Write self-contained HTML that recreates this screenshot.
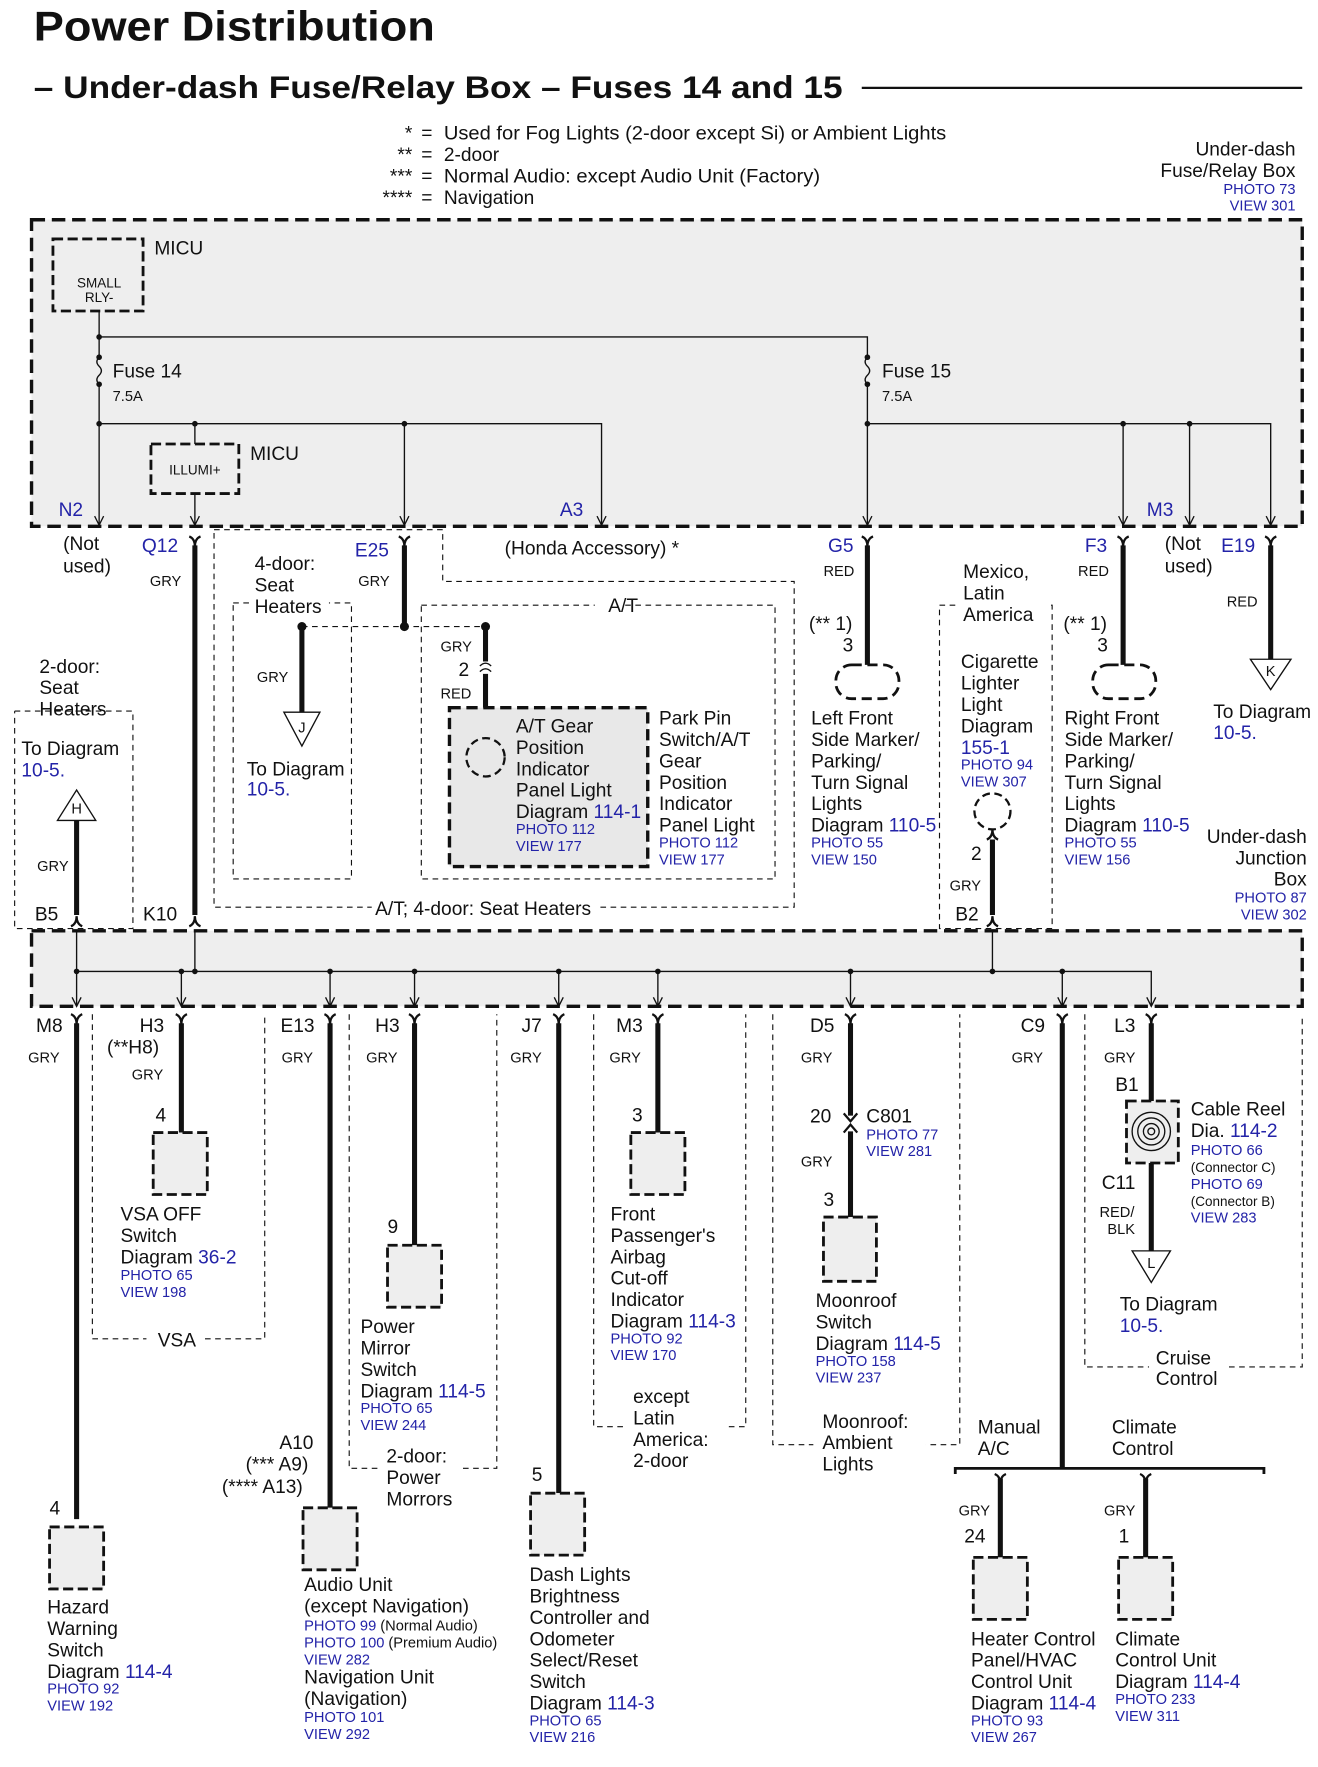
<!DOCTYPE html>
<html><head><meta charset="utf-8"><style>
html,body{margin:0;padding:0;background:#fff}
svg{display:block}
text{font-family:"Liberation Sans",Arial,sans-serif;font-size:17px;fill:#111}
.s{font-size:13px}
.b{fill:#2323a8}
.sb{font-size:13px;fill:#2323a8}
.t{stroke:#111;stroke-width:4.5;fill:none}
.n{stroke:#111;stroke-width:1.2;fill:none}
.d{stroke:#111;stroke-width:1;fill:none;stroke-dasharray:5 4}
.bx{stroke:#111;stroke-width:2.5;fill:#eee;stroke-dasharray:9 4}
</style></head><body>
<svg width="1318" height="1767" viewBox="0 0 1170 1568" preserveAspectRatio="none" xmlns="http://www.w3.org/2000/svg">
<defs>
<path id="yf" d="M-5,0 Q0,2 0,9 Q0,2 5,0" stroke="#111" stroke-width="2" fill="none"/>
<path id="yu" d="M-5,0 Q0,-2 0,-9 Q0,-2 5,0" stroke="#111" stroke-width="2" fill="none"/>
<path id="ar" d="M-4,-8 L0,0 L4,-8" stroke="#111" stroke-width="1.2" fill="none"/>
</defs>
<text x="30" y="36" style="font-size:37px;font-weight:bold" textLength="356" lengthAdjust="spacingAndGlyphs">Power Distribution</text>
<text x="30" y="87" style="font-size:28px;font-weight:bold" textLength="718" lengthAdjust="spacingAndGlyphs">– Under-dash Fuse/Relay Box – Fuses 14 and 15</text>
<line x1="765" y1="78" x2="1156" y2="78" stroke="#111" stroke-width="2"/>
<g text-anchor="end"><text x="366" y="124">*</text><text x="366" y="143">**</text><text x="366" y="162">***</text><text x="366" y="181">****</text></g>
<text x="374" y="124">=</text><text x="374" y="143">=</text><text x="374" y="162">=</text><text x="374" y="181">=</text>
<text x="394" y="124" textLength="446" lengthAdjust="spacingAndGlyphs">Used for Fog Lights (2-door except Si) or Ambient Lights</text>
<text x="394" y="143">2-door</text>
<text x="394" y="162" textLength="334" lengthAdjust="spacingAndGlyphs">Normal Audio: except Audio Unit (Factory)</text>
<text x="394" y="181">Navigation</text>
<g text-anchor="end"><text x="1150" y="138">Under-dash</text><text x="1150" y="157">Fuse/Relay Box</text><text class="sb" x="1150" y="172">PHOTO 73</text><text class="sb" x="1150" y="187">VIEW 301</text></g>

<!-- top box -->
<rect x="28" y="195" width="1128" height="272" fill="#eee" stroke="#111" stroke-width="3" stroke-dasharray="12 6"/>
<rect x="47" y="212" width="80" height="64" class="bx"/>
<text class="s" x="88" y="255" text-anchor="middle" style="font-size:12px">SMALL</text>
<text class="s" x="88" y="268" text-anchor="middle" style="font-size:12px">RLY-</text>
<text x="137" y="226">MICU</text>
<path class="n" d="M88,276 V317 M88,341 V466 M88,299 H770 V317 M770,341 V466 M88,376 H534 V466 M173,376 V394 M173,438 V466 M359,376 V466 M770,376 H1128 V466 M997,376 V466 M1056,376 V466"/>
<path class="n" d="M88,317 q-4,4 0,8 q4,4 0,8 q-4,4 0,8 M770,317 q-4,4 0,8 q4,4 0,8 q-4,4 0,8"/>
<g fill="#111"><circle cx="88" cy="299" r="2.5"/><circle cx="88" cy="317" r="2.5"/><circle cx="88" cy="341" r="2.5"/><circle cx="770" cy="317" r="2.5"/><circle cx="770" cy="341" r="2.5"/><circle cx="88" cy="376" r="2.5"/><circle cx="173" cy="376" r="2.5"/><circle cx="359" cy="376" r="2.5"/><circle cx="770" cy="376" r="2.5"/><circle cx="997" cy="376" r="2.5"/><circle cx="1056" cy="376" r="2.5"/></g>
<text x="100" y="335">Fuse 14</text><text class="s" x="100" y="356">7.5A</text>
<text x="783" y="335">Fuse 15</text><text class="s" x="783" y="356">7.5A</text>
<rect x="134" y="394" width="78" height="44" class="bx"/>
<text x="173" y="421" text-anchor="middle" style="font-size:12px">ILLUMI+</text>
<text x="222" y="408">MICU</text>
<text class="b" x="52" y="458">N2</text><text class="b" x="497" y="458">A3</text><text class="b" x="1018" y="458">M3</text>
<use href="#ar" x="88" y="466"/><use href="#ar" x="173" y="466"/><use href="#ar" x="359" y="466"/><use href="#ar" x="534" y="466"/><use href="#ar" x="770" y="466"/><use href="#ar" x="997" y="466"/><use href="#ar" x="1056" y="466"/><use href="#ar" x="1128" y="466"/>

<!-- below top box -->
<use href="#yf" x="173" y="476"/><use href="#yf" x="359" y="476"/><use href="#yf" x="770" y="476"/><use href="#yf" x="997" y="476"/><use href="#yf" x="1128" y="476"/>
<text x="56" y="488">(Not</text><text x="56" y="508">used)</text>
<text class="b" x="126" y="490">Q12</text><text class="s" x="133" y="520">GRY</text>
<path class="t" d="M173,484 V812"/>
<text class="b" x="315" y="494">E25</text><text class="s" x="318" y="520">GRY</text>
<path class="t" d="M359,484 V556"/>
<path class="d" d="M190,470 H393 V516 H705 V805 H190 V470"/>
<rect x="330" y="797" width="200" height="18" fill="#fff"/>
<text x="333" y="812">A/T; 4-door: Seat Heaters</text>
<path class="d" d="M207,535 H312 V780 H207 V535"/>
<rect x="222" y="495" width="70" height="55" fill="#fff"/>
<text x="226" y="506">4-door:</text><text x="226" y="525">Seat</text><text x="226" y="544">Heaters</text>
<path class="d" d="M268,556 H431"/>
<g fill="#111"><circle cx="268" cy="556" r="4"/><circle cx="359" cy="556" r="4"/><circle cx="431" cy="556" r="4"/></g>
<path class="t" d="M268,556 V632"/>
<path d="M252,632 H284 L268,662 Z" fill="#fff" stroke="#111" stroke-width="1.2"/><text class="s" x="268" y="650" text-anchor="middle">J</text>
<text class="s" x="228" y="605">GRY</text>
<text x="219" y="688">To Diagram</text><text class="b" x="219" y="706">10-5.</text>
<path class="d" d="M374,537 H528 M555,537 H688 V780 H374 V537"/>
<text x="540" y="543">A/T</text>
<text x="448" y="492">(Honda Accessory) *</text>
<text class="s" x="391" y="578">GRY</text>
<path class="t" d="M431,556 V587 M431,598 V628"/>
<path class="n" d="M426,591 q5,-5 10,0 M426,596 q5,-5 10,0" stroke-width="2"/>
<text x="407" y="600">2</text><text class="s" x="391" y="620">RED</text>
<rect x="399" y="628" width="176" height="141" fill="#e8e8e8" stroke="#111" stroke-width="3" stroke-dasharray="10 5"/>
<circle cx="431" cy="672" r="17" fill="none" stroke="#111" stroke-width="2" stroke-dasharray="7 4"/>
<text x="458" y="650">A/T Gear</text><text x="458" y="669">Position</text><text x="458" y="688">Indicator</text><text x="458" y="707">Panel Light</text><text x="458" y="726">Diagram <tspan class="b">114-1</tspan></text><text class="sb" x="458" y="740">PHOTO 112</text><text class="sb" x="458" y="755">VIEW 177</text>
<text x="585" y="643">Park Pin</text><text x="585" y="662">Switch/A/T</text><text x="585" y="681">Gear</text><text x="585" y="700">Position</text><text x="585" y="719">Indicator</text><text x="585" y="738">Panel Light</text><text class="sb" x="585" y="752">PHOTO 112</text><text class="sb" x="585" y="767">VIEW 177</text>

<text class="b" x="735" y="490">G5</text><text class="s" x="731" y="511">RED</text>
<path class="t" d="M770,484 V590"/>
<text x="718" y="559">(** 1)</text><text x="748" y="578">3</text>
<rect x="742" y="590" width="56" height="30" rx="14" fill="none" stroke="#111" stroke-width="2.5" stroke-dasharray="9 5"/>
<text x="720" y="643">Left Front</text><text x="720" y="662">Side Marker/</text><text x="720" y="681">Parking/</text><text x="720" y="700">Turn Signal</text><text x="720" y="719">Lights</text><text x="720" y="738">Diagram <tspan class="b">110-5</tspan></text><text class="sb" x="720" y="752">PHOTO 55</text><text class="sb" x="720" y="767">VIEW 150</text>

<path class="d" d="M834,537 H934 V824 H834 V537"/>
<rect x="850" y="497" width="80" height="58" fill="#fff"/>
<text x="855" y="513">Mexico,</text><text x="855" y="532">Latin</text><text x="855" y="551">America</text>
<text x="853" y="593">Cigarette</text><text x="853" y="612">Lighter</text><text x="853" y="631">Light</text><text x="853" y="650">Diagram</text><text class="b" x="853" y="669">155-1</text><text class="sb" x="853" y="683">PHOTO 94</text><text class="sb" x="853" y="698">VIEW 307</text>
<circle cx="881" cy="720" r="16" fill="none" stroke="#111" stroke-width="2" stroke-dasharray="7 4"/>
<text x="862" y="763">2</text><text class="s" x="843" y="790">GRY</text><text x="848" y="817">B2</text>
<path class="t" d="M881,745 V812"/><use href="#yu" x="881" y="745"/>

<text class="b" x="963" y="490">F3</text><text class="s" x="957" y="511">RED</text>
<path class="t" d="M997,484 V590"/>
<text x="944" y="559">(** 1)</text><text x="974" y="578">3</text>
<rect x="970" y="590" width="56" height="30" rx="14" fill="none" stroke="#111" stroke-width="2.5" stroke-dasharray="9 5"/>
<text x="945" y="643">Right Front</text><text x="945" y="662">Side Marker/</text><text x="945" y="681">Parking/</text><text x="945" y="700">Turn Signal</text><text x="945" y="719">Lights</text><text x="945" y="738">Diagram <tspan class="b">110-5</tspan></text><text class="sb" x="945" y="752">PHOTO 55</text><text class="sb" x="945" y="767">VIEW 156</text>

<text x="1034" y="488">(Not</text><text x="1034" y="508">used)</text>
<text class="b" x="1084" y="490">E19</text><text class="s" x="1089" y="538">RED</text>
<path class="t" d="M1128,484 V585"/>
<path d="M1110,585 H1146 L1128,612 Z" fill="#fff" stroke="#111" stroke-width="1.2"/><text class="s" x="1128" y="600" text-anchor="middle">K</text>
<text x="1077" y="637">To Diagram</text><text class="b" x="1077" y="656">10-5.</text>
<g text-anchor="end"><text x="1160" y="748">Under-dash</text><text x="1160" y="767">Junction</text><text x="1160" y="786">Box</text><text class="sb" x="1160" y="801">PHOTO 87</text><text class="sb" x="1160" y="816">VIEW 302</text></g>

<text x="35" y="597">2-door:</text><text x="35" y="616">Seat</text><text x="35" y="635">Heaters</text>
<path class="d" d="M13,631 H118 V824 H13 V631"/>
<text x="19" y="670">To Diagram</text><text class="b" x="19" y="689">10-5.</text>
<path d="M51,728 H85 L68,701 Z" fill="#fff" stroke="#111" stroke-width="1.2"/><text class="s" x="68" y="722" text-anchor="middle">H</text>
<text class="s" x="33" y="773">GRY</text>
<path class="t" d="M68,728 V812"/>
<text x="31" y="817">B5</text><text x="127" y="817">K10</text>
<use href="#yu" x="68" y="822"/><use href="#yu" x="173" y="822"/><use href="#yu" x="881" y="822"/>

<!-- middle box -->
<rect x="28" y="826" width="1128" height="67" fill="#eee" stroke="#111" stroke-width="3" stroke-dasharray="12 6"/>
<path class="n" d="M68,826 V893 M68,862 H1022 V893 M161,862 V893 M173,826 V862 M293,862 V893 M368,862 V893 M496,862 V893 M584,862 V893 M755,862 V893 M943,862 V893 M881,826 V862"/>
<g fill="#111"><circle cx="68" cy="862" r="2.5"/><circle cx="161" cy="862" r="2.5"/><circle cx="173" cy="862" r="2.5"/><circle cx="293" cy="862" r="2.5"/><circle cx="368" cy="862" r="2.5"/><circle cx="496" cy="862" r="2.5"/><circle cx="584" cy="862" r="2.5"/><circle cx="755" cy="862" r="2.5"/><circle cx="881" cy="862" r="2.5"/><circle cx="943" cy="862" r="2.5"/></g>
<use href="#ar" x="68" y="893"/><use href="#ar" x="161" y="893"/><use href="#ar" x="293" y="893"/><use href="#ar" x="368" y="893"/><use href="#ar" x="496" y="893"/><use href="#ar" x="584" y="893"/><use href="#ar" x="755" y="893"/><use href="#ar" x="943" y="893"/><use href="#ar" x="1022" y="893"/>
<use href="#yf" x="68" y="900"/><use href="#yf" x="161" y="900"/><use href="#yf" x="293" y="900"/><use href="#yf" x="368" y="900"/><use href="#yf" x="496" y="900"/><use href="#yf" x="584" y="900"/><use href="#yf" x="755" y="900"/><use href="#yf" x="943" y="900"/><use href="#yf" x="1022" y="900"/>

<!-- M8 -->
<text x="32" y="916">M8</text><text class="s" x="25" y="943">GRY</text>
<path class="t" d="M68,908 V1348"/><text x="44" y="1344">4</text>
<rect x="44" y="1355" width="48" height="55" class="bx"/>
<text x="42" y="1432">Hazard</text><text x="42" y="1451">Warning</text><text x="42" y="1470">Switch</text><text x="42" y="1489">Diagram <tspan class="b">114-4</tspan></text><text class="sb" x="42" y="1503">PHOTO 92</text><text class="sb" x="42" y="1518">VIEW 192</text>
<!-- VSA -->
<path class="d" d="M82,900 V1188 H130 M182,1188 H235 V900"/>
<text x="124" y="916">H3</text><text x="95" y="935">(**H8)</text><text class="s" x="117" y="958">GRY</text>
<path class="t" d="M161,908 V1005"/><text x="138" y="995">4</text>
<rect x="136" y="1005" width="48" height="55" class="bx"/>
<text x="107" y="1083">VSA OFF</text><text x="107" y="1102">Switch</text><text x="107" y="1121">Diagram <tspan class="b">36-2</tspan></text><text class="sb" x="107" y="1136">PHOTO 65</text><text class="sb" x="107" y="1151">VIEW 198</text>
<text x="140" y="1195">VSA</text>
<!-- E13 -->
<text x="249" y="916">E13</text><text class="s" x="250" y="943">GRY</text>
<path class="t" d="M293,908 V1338"/>
<text x="248" y="1286">A10</text><text x="218" y="1305">(*** A9)</text><text x="197" y="1325">(**** A13)</text>
<rect x="269" y="1338" width="48" height="55" class="bx"/>
<text x="270" y="1412">Audio Unit</text><text x="270" y="1431">(except Navigation)</text>
<text class="sb" x="270" y="1447">PHOTO 99 <tspan fill="#111">(Normal Audio)</tspan></text>
<text class="sb" x="270" y="1462">PHOTO 100 <tspan fill="#111">(Premium Audio)</tspan></text>
<text class="sb" x="270" y="1477">VIEW 282</text>
<text x="270" y="1494">Navigation Unit</text><text x="270" y="1513">(Navigation)</text><text class="sb" x="270" y="1528">PHOTO 101</text><text class="sb" x="270" y="1543">VIEW 292</text>
<!-- H3 mirror -->
<path class="d" d="M310,900 V1303 H441 V900"/>
<text x="333" y="916">H3</text><text class="s" x="325" y="943">GRY</text>
<path class="t" d="M368,908 V1105"/><text x="344" y="1094">9</text>
<rect x="344" y="1105" width="48" height="55" class="bx"/>
<text x="320" y="1183">Power</text><text x="320" y="1202">Mirror</text><text x="320" y="1221">Switch</text><text x="320" y="1240">Diagram <tspan class="b">114-5</tspan></text><text class="sb" x="320" y="1254">PHOTO 65</text><text class="sb" x="320" y="1269">VIEW 244</text>
<rect x="338" y="1283" width="70" height="58" fill="#fff"/>
<text x="343" y="1298">2-door:</text><text x="343" y="1317">Power</text><text x="343" y="1336">Morrors</text>
<!-- J7 -->
<text x="463" y="916">J7</text><text class="s" x="453" y="943">GRY</text>
<path class="t" d="M496,908 V1325"/><text x="472" y="1314">5</text>
<rect x="471" y="1325" width="48" height="55" class="bx"/>
<text x="470" y="1403">Dash Lights</text><text x="470" y="1422">Brightness</text><text x="470" y="1441">Controller and</text><text x="470" y="1460">Odometer</text><text x="470" y="1479">Select/Reset</text><text x="470" y="1498">Switch</text><text x="470" y="1517">Diagram <tspan class="b">114-3</tspan></text><text class="sb" x="470" y="1531">PHOTO 65</text><text class="sb" x="470" y="1546">VIEW 216</text>
<!-- M3 airbag -->
<path class="d" d="M527,900 V1266 H662 V900"/>
<text x="547" y="916">M3</text><text class="s" x="541" y="943">GRY</text>
<path class="t" d="M584,908 V1005"/><text x="561" y="995">3</text>
<rect x="560" y="1005" width="48" height="55" class="bx"/>
<text x="542" y="1083">Front</text><text x="542" y="1102">Passenger's</text><text x="542" y="1121">Airbag</text><text x="542" y="1140">Cut-off</text><text x="542" y="1159">Indicator</text><text x="542" y="1178">Diagram <tspan class="b">114-3</tspan></text><text class="sb" x="542" y="1192">PHOTO 92</text><text class="sb" x="542" y="1207">VIEW 170</text>
<rect x="555" y="1228" width="90" height="78" fill="#fff"/>
<text x="562" y="1245">except</text><text x="562" y="1264">Latin</text><text x="562" y="1283">America:</text><text x="562" y="1302">2-door</text>
<!-- D5 -->
<path class="d" d="M686,900 V1282 H852 V900"/>
<text x="719" y="916">D5</text><text class="s" x="711" y="943">GRY</text>
<path class="t" d="M755,908 V990 M755,1004 V1080"/>
<path d="M749,988 L755,995 L761,988 M749,1005 L755,998 L761,1005" stroke="#111" stroke-width="2" fill="none"/>
<text x="719" y="996">20</text><text x="769" y="996">C801</text><text class="sb" x="769" y="1011">PHOTO 77</text><text class="sb" x="769" y="1026">VIEW 281</text>
<text class="s" x="711" y="1035">GRY</text><text x="731" y="1070">3</text>
<rect x="731" y="1080" width="47" height="57" class="bx"/>
<text x="724" y="1160">Moonroof</text><text x="724" y="1179">Switch</text><text x="724" y="1198">Diagram <tspan class="b">114-5</tspan></text><text class="sb" x="724" y="1212">PHOTO 158</text><text class="sb" x="724" y="1227">VIEW 237</text>
<rect x="722" y="1250" width="100" height="60" fill="#fff"/>
<text x="730" y="1267">Moonroof:</text><text x="730" y="1286">Ambient</text><text x="730" y="1305">Lights</text>
<!-- C9 -->
<text x="906" y="916">C9</text><text class="s" x="898" y="943">GRY</text>
<path class="t" d="M943,908 V1303"/>
<path d="M848,1308 V1303 H1122 V1308" stroke="#111" stroke-width="2.5" fill="none"/>
<path class="t" d="M888,1312 V1382 M1017,1312 V1382"/>
<use href="#yf" x="888" y="1308"/><use href="#yf" x="1017" y="1308"/>
<text x="868" y="1272">Manual</text><text x="868" y="1291">A/C</text><text x="987" y="1272">Climate</text><text x="987" y="1291">Control</text>
<text class="s" x="851" y="1345">GRY</text><text x="856" y="1369">24</text>
<text class="s" x="980" y="1345">GRY</text><text x="993" y="1369">1</text>
<rect x="864" y="1382" width="48" height="55" class="bx"/><rect x="993" y="1382" width="48" height="55" class="bx"/>
<text x="862" y="1460">Heater Control</text><text x="862" y="1479">Panel/HVAC</text><text x="862" y="1498">Control Unit</text><text x="862" y="1517">Diagram <tspan class="b">114-4</tspan></text><text class="sb" x="862" y="1531">PHOTO 93</text><text class="sb" x="862" y="1546">VIEW 267</text>
<text x="990" y="1460">Climate</text><text x="990" y="1479">Control Unit</text><text x="990" y="1498">Diagram <tspan class="b">114-4</tspan></text><text class="sb" x="990" y="1512">PHOTO 233</text><text class="sb" x="990" y="1527">VIEW 311</text>
<!-- L3 -->
<path class="d" d="M963,900 V1213 H1156 V900"/>
<text x="989" y="916">L3</text><text class="s" x="980" y="943">GRY</text>
<path class="t" d="M1022,908 V977 M1022,1032 V1110"/>
<text x="990" y="968">B1</text>
<rect x="1000" y="977" width="46" height="55" fill="#eee" stroke="#111" stroke-width="2.5" stroke-dasharray="9 4"/>
<circle cx="1022" cy="1004" r="17" fill="none" stroke="#111" stroke-width="1.2"/><circle cx="1022" cy="1004" r="12" fill="none" stroke="#111" stroke-width="1.2"/><circle cx="1022" cy="1004" r="7" fill="none" stroke="#111" stroke-width="1.2"/><circle cx="1022" cy="1004" r="3" fill="none" stroke="#111" stroke-width="1.2"/>
<text x="1057" y="990">Cable Reel</text><text x="1057" y="1009">Dia. <tspan class="b">114-2</tspan></text>
<text class="sb" x="1057" y="1025">PHOTO 66</text><text x="1057" y="1040" style="font-size:12px">(Connector C)</text>
<text class="sb" x="1057" y="1055">PHOTO 69</text><text x="1057" y="1070" style="font-size:12px">(Connector B)</text>
<text class="sb" x="1057" y="1085">VIEW 283</text>
<text x="978" y="1055">C11</text><text class="s" x="976" y="1080">RED/</text><text class="s" x="983" y="1095">BLK</text>
<path d="M1005,1110 H1039 L1022,1138 Z" fill="#fff" stroke="#111" stroke-width="1.2"/><text class="s" x="1022" y="1125" text-anchor="middle">L</text>
<text x="994" y="1163">To Diagram</text><text class="b" x="994" y="1182">10-5.</text>
<rect x="1020" y="1195" width="70" height="40" fill="#fff"/>
<text x="1026" y="1211">Cruise</text><text x="1026" y="1229">Control</text>
</svg>
</body></html>
